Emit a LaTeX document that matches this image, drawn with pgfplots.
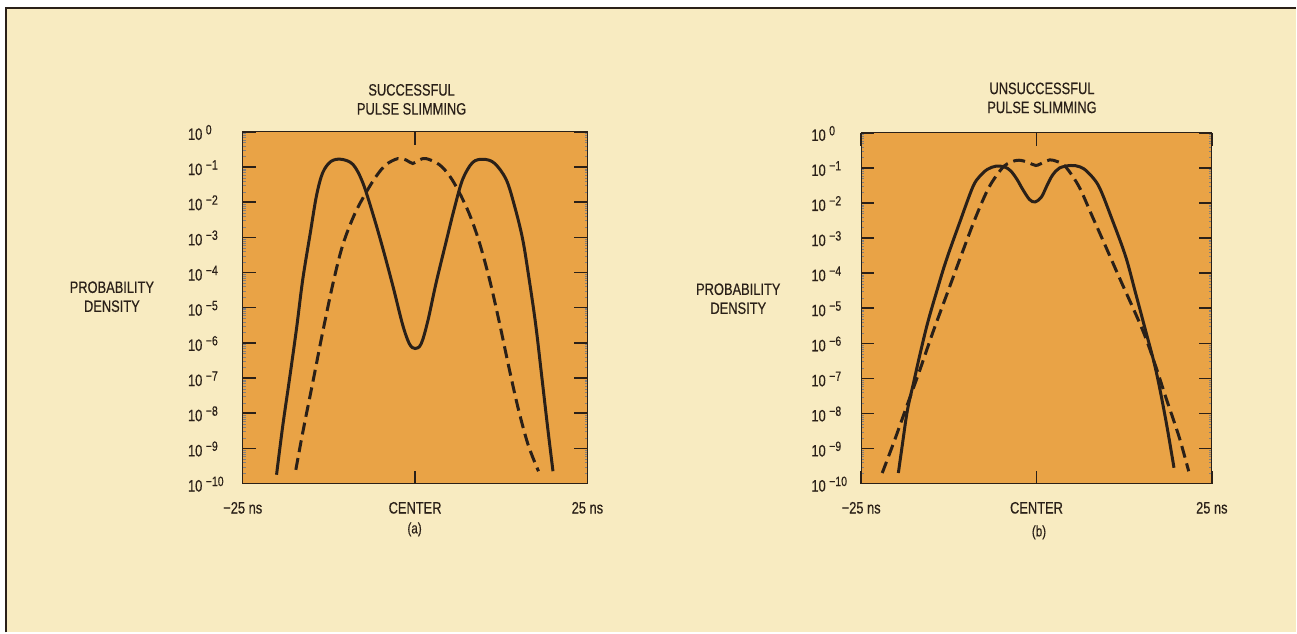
\documentclass[border=0pt]{standalone}
\usepackage{pgfplots}
\pgfplotsset{compat=1.18}
\usepackage{pgfplotstable}
\usepackage{fontspec}
\setmainfont{Liberation Sans}[FakeStretch=0.78, FakeBold=0.4]
\definecolor{cream}{HTML}{F8EBC1}
\definecolor{plotorange}{HTML}{E9A346}
\definecolor{ink}{HTML}{2A2018}
\newcommand\ex[1]{10\hspace{3.5bp}\raisebox{5.5bp}{\fontsize{13.5bp}{13.5bp}\selectfont #1}}
\newcommand\txt{\fontsize{16.5bp}{19bp}\selectfont}

\pgfplotstableread{
x y
-20.1 1.778e-10
-19.2 4.365e-9
-18.2 1e-7
-17.2 2.570e-6
-16.3 6.310e-5
-15.2 1.349e-3
-14.3 1.549e-2
-13.4 6.918e-2
-12.2 0.1445
-10.7 0.1660
-9.0 0.1175
-7.6 3.631e-2
-6.1 4.467e-3
-4.7 5.012e-4
-3.2 3.981e-5
-1.8 3.236e-6
-0.82 9.333e-7
0 6.918e-7
0.87 9.333e-7
1.83 4.074e-6
3.04 5.012e-5
4.49 7.413e-4
5.7 6.761e-3
6.9 4.467e-2
8.35 0.1349
9.9 0.1660
11.5 0.1288
13.2 4.467e-2
14.4 8.128e-3
15.6 8.913e-4
16.55 6.310e-5
17.5 3.236e-6
18.4 1e-7
19.2 4.365e-9
20.0 2.239e-10
}\solidA

\pgfplotstableread{
x y
-17.3 2.455e-10
-16.3 2.818e-9
-14.8 8.318e-8
-13.4 2.042e-6
-11.9 5.012e-5
-10.5 6.026e-4
-8.8 4.467e-3
-7.1 1.905e-2
-5.6 5.623e-2
-4.2 0.1175
-2.5 0.1738
-1.3 0.1585
-0.34 0.1259
0.6 0.1585
1.6 0.1738
3.5 0.1175
5.0 5.623e-2
6.4 1.905e-2
7.9 4.467e-3
9.3 7.413e-4
10.8 6.310e-5
12.2 3.981e-6
13.7 1.660e-7
15.0 1.259e-8
16.4 1.259e-9
17.9 2.239e-10
}\dashA

\pgfplotstableread{
x y
-19.7 1.995e-10
-19.1 1.413e-9
-18.4 1.259e-8
-17.5 7.943e-8
-16.6 5.012e-7
-15.5 3.981e-6
-14.2 3.162e-5
-12.9 2.239e-4
-11.0 2.630e-3
-9.1 2.818e-2
-8.1 5.754e-2
-7.0 9.120e-2
-5.8 0.1122
-4.6 0.1072
-3.7 8.318e-2
-2.8 4.786e-2
-2.0 2.512e-2
-1.0 1.259e-2
-0.2 1.072e-2
0.7 1.479e-2
1.5 3.162e-2
2.3 6.310e-2
3.3 0.1
4.9 0.1175
6.2 0.1072
7.3 7.586e-2
8.9 2.951e-2
10.8 3.311e-3
12.7 3.020e-4
14.1 2.818e-5
15.5 2.512e-6
17.0 1.778e-7
18.4 7.079e-9
19.6 2.818e-10
}\solidB

\pgfplotstableread{
x y
-22.0 1.995e-10
-20.3 1.585e-9
-18.6 1.413e-8
-16.7 1.585e-7
-14.8 1.995e-6
-12.5 3.548e-5
-10.6 3.802e-4
-8.66 3.981e-3
-6.77 2.818e-2
-4.87 0.1
-3.6 0.1479
-2.5 0.1660
-1.2 0.1445
-0.1 0.1175
1.0 0.1445
1.9 0.1698
3.0 0.1514
4.16 0.1072
6.05 2.951e-2
7.95 4.169e-3
9.86 5.754e-4
11.75 7.943e-5
15.1 2.455e-6
17.0 2.188e-7
18.4 3.020e-8
20.3 2.239e-9
21.7 2.239e-10
}\dashB

\begin{document}
\begin{tikzpicture}[x=1bp,y=1bp]
\fill[white] (0,0) rectangle (1297,633);
\fill[cream] (6,0) rectangle (1297,625);
\draw[ink, line width=2.5bp] (6,0) -- (6,625) -- (1297,625);
\path[use as bounding box] (0,0) rectangle (1297,633);

\begin{axis}[scale only axis, anchor=south west,
    at={(243bp,149bp)}, width=345bp, height=352bp,
    ymode=log,
    xmin=-25, xmax=25, ymin=1e-10, ymax=1,
    axis background/.style={fill=plotorange},
    axis line style={ink, line width=1.2bp},
    major tick style={ink, line width=1.4bp},
    major tick length=13bp,
    tick align=inside,
    minor y tick num=0,
    ytick={1e-10,1e-9,1e-8,1e-7,1e-6,1e-5,1e-4,1e-3,1e-2,1e-1,1},
    yticklabels={\ex{−10},\ex{−9},\ex{−8},\ex{−7},\ex{−6},\ex{−5},\ex{−4},\ex{−3},\ex{−2},\ex{−1},\ex{0}},
    xtick={-25,0,25},
    xticklabels={−25 ns,CENTER,25 ns},
    tick label style={font=\txt, text=ink, inner sep=0pt},
    xticklabel style={anchor=base, yshift=-30bp},
    yticklabel style={anchor=base west, xshift=-55bp, yshift=-8bp}]
\addplot[ink, line width=3bp, smooth, tension=0.55] table[x=x,y=y] {\solidA};
\addplot[ink, line width=3bp, smooth, tension=0.55, dash pattern=on 12bp off 6bp] table[x=x,y=y] {\dashA};
\end{axis}

\begin{axis}[scale only axis, anchor=south west,
    at={(862bp,149bp)}, width=351bp, height=351bp,
    ymode=log,
    xmin=-25, xmax=25, ymin=1e-10, ymax=1,
    axis background/.style={fill=plotorange},
    axis line style={ink, line width=1.2bp},
    major tick style={ink, line width=1.4bp},
    major tick length=13bp,
    tick align=inside,
    minor y tick num=0,
    ytick={1e-10,1e-9,1e-8,1e-7,1e-6,1e-5,1e-4,1e-3,1e-2,1e-1,1},
    yticklabels={\ex{−10},\ex{−9},\ex{−8},\ex{−7},\ex{−6},\ex{−5},\ex{−4},\ex{−3},\ex{−2},\ex{−1},\ex{0}},
    xtick={-25,0,25},
    xticklabels={−25 ns,CENTER,25 ns},
    tick label style={font=\txt, text=ink, inner sep=0pt},
    xticklabel style={anchor=base, yshift=-30bp},
    yticklabel style={anchor=base west, xshift=-50bp, yshift=-8bp}]
\addplot[ink, line width=3bp, smooth, tension=0.55] table[x=x,y=y] {\solidB};
\addplot[ink, line width=3bp, smooth, tension=0.55, dash pattern=on 12bp off 6bp] table[x=x,y=y] {\dashB};
\end{axis}

\node[text=ink, align=center, font=\txt] at (412,533.5) {SUCCESSFUL\\PULSE SLIMMING};
\node[text=ink, align=center, font=\txt] at (1043,535) {UNSUCCESSFUL\\PULSE SLIMMING};
\node[text=ink, align=center, font=\txt] at (112,336) {PROBABILITY\\DENSITY};
\node[text=ink, align=center, font=\txt] at (739,334) {PROBABILITY\\DENSITY};
\node[text=ink, font=\fontsize{15bp}{17bp}\selectfont] at (415,103) {(a)};
\node[text=ink, font=\fontsize{15bp}{17bp}\selectfont] at (1040,100) {(b)};
\end{tikzpicture}
\end{document}
